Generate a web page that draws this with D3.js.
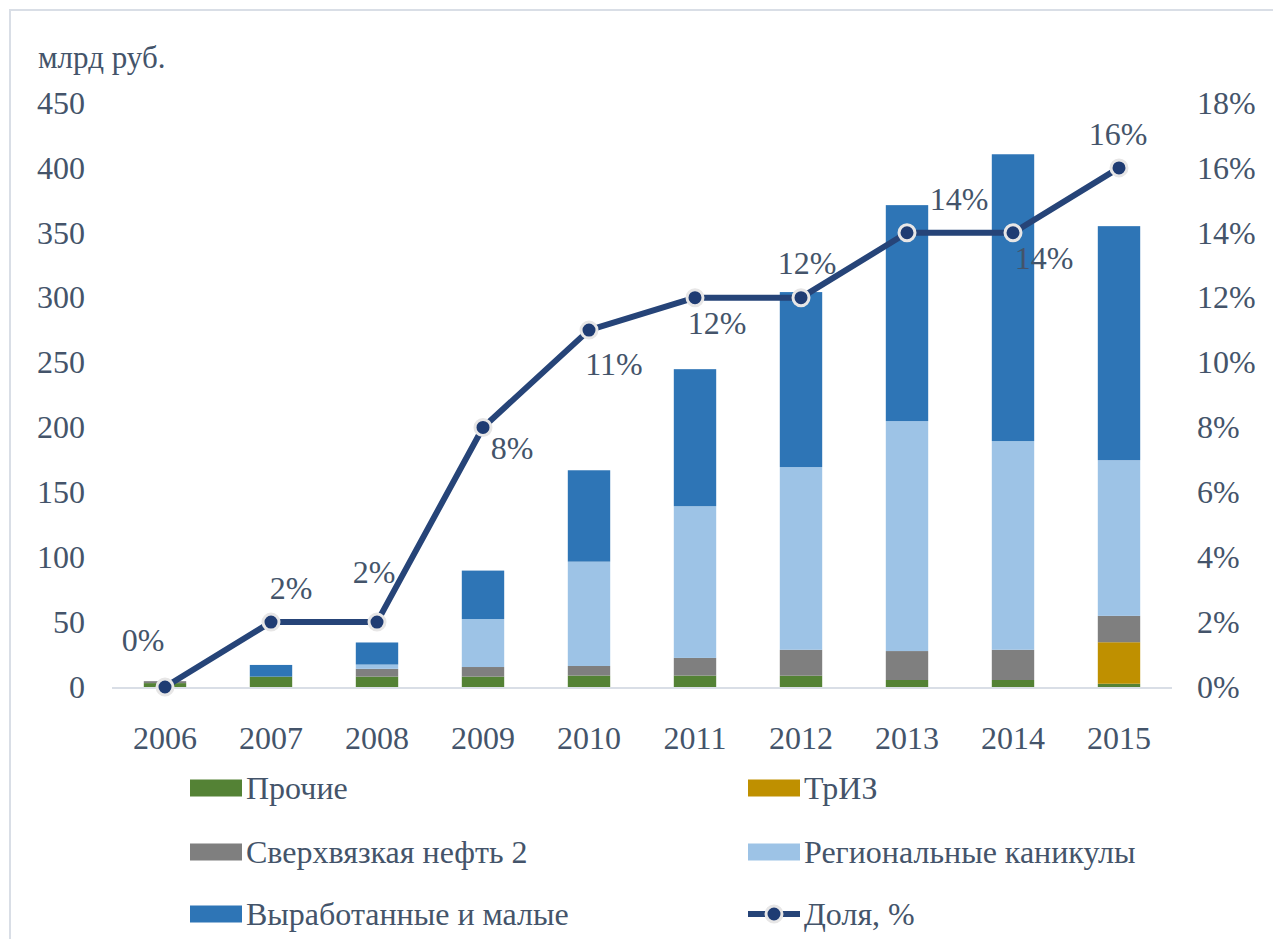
<!DOCTYPE html>
<html>
<head>
<meta charset="utf-8">
<script src="https://cdn.jsdelivr.net/npm/d3@7"></script>
<style>
  body { margin: 0; background: #fff; }
  svg text { font-family: "Liberation Serif", "Times New Roman", Times, "DejaVu Serif", serif; fill: #44546A; }
</style>
</head>
<body>
<script>
// data (млрд руб.)
const years = ["2006", "2007", "2008", "2009", "2010", "2011", "2012", "2013", "2014", "2015"];
const prochie = [3, 8, 8, 8, 8.8, 8.8, 8.7, 5.4, 5.4, 2.5];
const triz = [0, 0, 0, 0, 0, 0, 0, 0, 0, 32];
const sverkh = [1.5, 0, 6, 7.4, 7.4, 13.6, 20, 22.3, 23.3, 20.3];
const region = [0, 0, 3.3, 37, 80.4, 116.9, 140.8, 177.2, 160.8, 120];
const vyrab = [0, 9, 17, 37.3, 70.4, 105.6, 134.8, 166.4, 221, 180.3];
const share = [0, 2, 2, 8, 11, 12, 12, 14, 14, 16]; // %

const seriesNames = ["Прочие", "ТрИЗ", "Сверхвязкая нефть 2", "Региональные каникулы", "Выработанные и малые"];
const lineName = "Доля, %";
const leftTicks = [0, 50, 100, 150, 200, 250, 300, 350, 400, 450];
const rightTicks = [0, 2, 4, 6, 8, 10, 12, 14, 16, 18];

// label placement around each point (like the source chart)
const labelOffsets = [[-22, -47], [20, -34], [-3, -50], [29, 20], [25, 34], [22, 25], [6, -35], [52, -34], [31, 25], [-1, -34]];

const colors = ["#548235", "#BF9000", "#7F7F7F", "#9DC3E6", "#2E75B6"];
const lineColor = "#264478";
const serif = "'Liberation Serif', 'Times New Roman', Times, 'DejaVu Serif', serif";

const width = 1273, height = 939;
const plot = { left: 112, right: 1172, top: 103, bottom: 687 };

const svg = d3.select("body").append("svg")
    .attr("width", width)
    .attr("height", height)
    .attr("font-family", serif);

// chart frame
svg.append("rect")
    .attr("x", 10).attr("y", 10)
    .attr("width", 1300).attr("height", 1000)
    .attr("fill", "none")
    .attr("stroke", "#D9DEE6")
    .attr("stroke-width", 2);

const table = years.map((yr, i) => ({
    year: yr,
    s0: prochie[i], s1: triz[i], s2: sverkh[i], s3: region[i], s4: vyrab[i]
}));
const keys = ["s0", "s1", "s2", "s3", "s4"];
const stacked = d3.stack().keys(keys)(table);

const x = d3.scaleBand()
    .domain(years)
    .range([plot.left, plot.right])
    .paddingInner(0.6)
    .paddingOuter(0.3);

const y = d3.scaleLinear().domain([0, 450]).range([plot.bottom, plot.top]);
const y2 = d3.scaleLinear().domain([0, 18]).range([plot.bottom, plot.top]);

const styleTicks = g => {
    g.attr("font-family", serif).attr("font-size", 32);
    g.selectAll("text")
        .attr("font-family", serif)
        .attr("fill", "#44546A");
};

// axes
svg.append("g")
    .attr("transform", `translate(${plot.left},0)`)
    .call(d3.axisLeft(y).tickValues(leftTicks).tickSize(0).tickPadding(27))
    .call(g => g.select(".domain").remove())
    .call(styleTicks);

svg.append("g")
    .attr("transform", `translate(${plot.right},0)`)
    .call(d3.axisRight(y2).tickValues(rightTicks).tickSize(0).tickPadding(25)
        .tickFormat(d => d + "%"))
    .call(g => g.select(".domain").remove())
    .call(styleTicks);

svg.append("g")
    .attr("transform", `translate(0,${plot.bottom})`)
    .call(d3.axisBottom(x).tickSize(0).tickPadding(39))
    .call(g => g.select(".domain").remove())
    .call(styleTicks);

svg.append("text")
    .attr("x", 38).attr("y", 68)
    .attr("font-size", 31)
    .text("млрд руб.");

// bars
svg.append("g")
    .selectAll("g")
    .data(stacked)
    .join("g")
    .attr("fill", (d, i) => colors[i])
    .selectAll("rect")
    .data(d => d)
    .join("rect")
    .attr("x", d => x(d.data.year))
    .attr("y", d => y(d[1]))
    .attr("width", x.bandwidth())
    .attr("height", d => y(d[0]) - y(d[1]));

// baseline
svg.append("line")
    .attr("x1", plot.left).attr("x2", plot.right)
    .attr("y1", plot.bottom + 1).attr("y2", plot.bottom + 1)
    .attr("stroke", "#D9DEE6")
    .attr("stroke-width", 2);

// share line
const cx = d => x(d.year) + x.bandwidth() / 2;
const pts = years.map((yr, i) => ({ year: yr, v: share[i] }));

svg.append("path")
    .datum(pts)
    .attr("fill", "none")
    .attr("stroke", lineColor)
    .attr("stroke-width", 6)
    .attr("stroke-linejoin", "round")
    .attr("d", d3.line().x(cx).y(d => y2(d.v)));

svg.append("g")
    .selectAll("circle")
    .data(pts)
    .join("circle")
    .attr("cx", cx)
    .attr("cy", d => y2(d.v))
    .attr("r", 8)
    .attr("fill", "#1F3C73")
    .attr("stroke", "#E7E6E6")
    .attr("stroke-width", 3);

svg.append("g")
    .selectAll("text")
    .data(pts)
    .join("text")
    .attr("x", (d, i) => cx(d) + labelOffsets[i][0])
    .attr("y", (d, i) => y2(d.v) + labelOffsets[i][1])
    .attr("dy", "0.35em")
    .attr("text-anchor", "middle")
    .attr("font-size", 32)
    .text(d => d.v + "%");

// legend
const legendItems = [
    { name: seriesNames[0], color: colors[0], col: 0, row: 0 },
    { name: seriesNames[1], color: colors[1], col: 1, row: 0 },
    { name: seriesNames[2], color: colors[2], col: 0, row: 1 },
    { name: seriesNames[3], color: colors[3], col: 1, row: 1 },
    { name: seriesNames[4], color: colors[4], col: 0, row: 2 },
    { name: lineName, color: lineColor, col: 1, row: 2, line: true }
];
const colX = [190, 748];
const rowY = [788, 852, 914];

const lg = svg.append("g")
    .selectAll("g")
    .data(legendItems)
    .join("g")
    .attr("transform", d => `translate(${colX[d.col]},${rowY[d.row]})`);

lg.filter(d => !d.line).append("rect")
    .attr("x", 0).attr("y", -8.5)
    .attr("width", 52).attr("height", 17)
    .attr("fill", d => d.color);

const ll = lg.filter(d => d.line);
ll.append("line")
    .attr("x1", 0).attr("x2", 52)
    .attr("stroke", lineColor).attr("stroke-width", 6);
ll.append("circle")
    .attr("cx", 26).attr("r", 8)
    .attr("fill", "#1F3C73")
    .attr("stroke", "#E7E6E6")
    .attr("stroke-width", 3);

lg.append("text")
    .attr("x", 56)
    .attr("dy", "0.35em")
    .attr("font-size", 32)
    .text(d => d.name);
</script>
</body>
</html>
